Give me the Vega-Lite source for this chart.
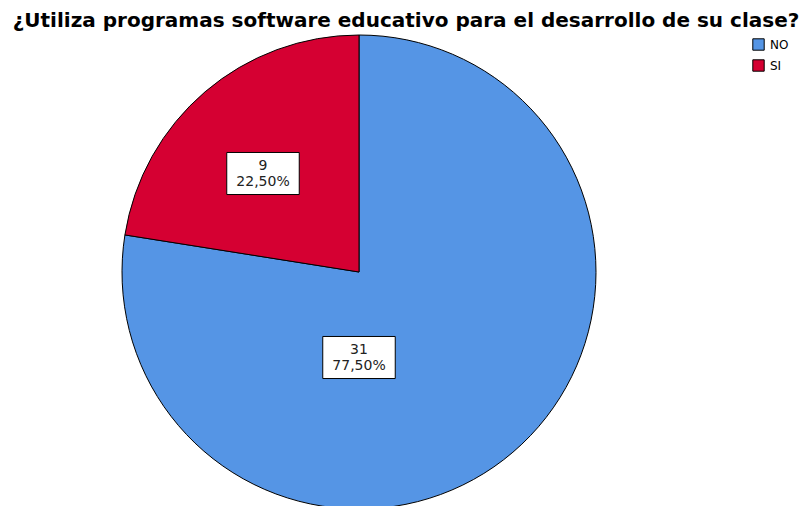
{
  "$schema": "https://vega.github.io/schema/vega-lite/v6.json",
  "width": 718,
  "height": 474,
  "autosize": {"type": "none"},
  "padding": {"left": 0, "top": 35, "right": 90, "bottom": 0},
  "background": "white",
  "title": {
    "text": "¿Utiliza programas software educativo para el desarrollo de su clase?",
    "font": "DejaVu Sans",
    "fontSize": 20,
    "fontWeight": "bold",
    "color": "#000000",
    "anchor": "middle",
    "dx": 47,
    "offset": 2
  },
  "data": {
    "values": [
      {"respuesta": "NO", "n": 31, "label": "31\n77,50%"},
      {"respuesta": "SI", "n": 9, "label": "9\n22,50%"}
    ]
  },
  "config": {"view": {"stroke": null}, "font": "DejaVu Sans"},
  "layer": [
    {
      "mark": {"type": "arc", "radius": 237, "stroke": "#000000", "strokeWidth": 1},
      "encoding": {
        "theta": {"field": "n", "type": "quantitative", "stack": true},
        "color": {
          "field": "respuesta",
          "type": "nominal",
          "scale": {"domain": ["NO", "SI"], "range": ["#5595E5", "#D50032"]},
          "legend": {
            "orient": "none",
            "legendX": 752,
            "legendY": 3,
            "title": null,
            "symbolType": "square",
            "symbolSize": 130,
            "symbolStrokeColor": "#000000",
            "symbolStrokeWidth": 1,
            "labelFont": "DejaVu Sans",
            "labelFontSize": 12,
            "labelColor": "#000000",
            "rowPadding": 4,
            "labelOffset": 5
          }
        },
        "order": {"field": "respuesta"}
      }
    },
    {
      "mark": {"type": "point", "shape": "M-1,-0.58H1V0.58H-1Z", "size": 5256, "filled": true, "fill": "white", "stroke": "#000000", "strokeWidth": 1, "opacity": 1},
      "encoding": {
        "x": {"field": "respuesta", "type": "nominal", "scale": {"type": "point", "domain": ["NO", "SI"], "range": [359, 263], "padding": 0}, "axis": null},
        "y": {"field": "respuesta", "type": "nominal", "scale": {"type": "point", "domain": ["NO", "SI"], "range": [322.5, 138.5], "padding": 0}, "axis": null}
      }
    },
    {
      "mark": {"type": "text", "lineBreak": "\n", "fontSize": 14, "color": "#222222", "baseline": "middle", "align": "center", "lineHeight": 16, "dy": -8},
      "encoding": {
        "x": {"field": "respuesta", "type": "nominal", "scale": {"type": "point", "domain": ["NO", "SI"], "range": [359, 263], "padding": 0}, "axis": null},
        "y": {"field": "respuesta", "type": "nominal", "scale": {"type": "point", "domain": ["NO", "SI"], "range": [322.5, 138.5], "padding": 0}, "axis": null},
        "text": {"field": "label"}
      }
    }
  ]
}
